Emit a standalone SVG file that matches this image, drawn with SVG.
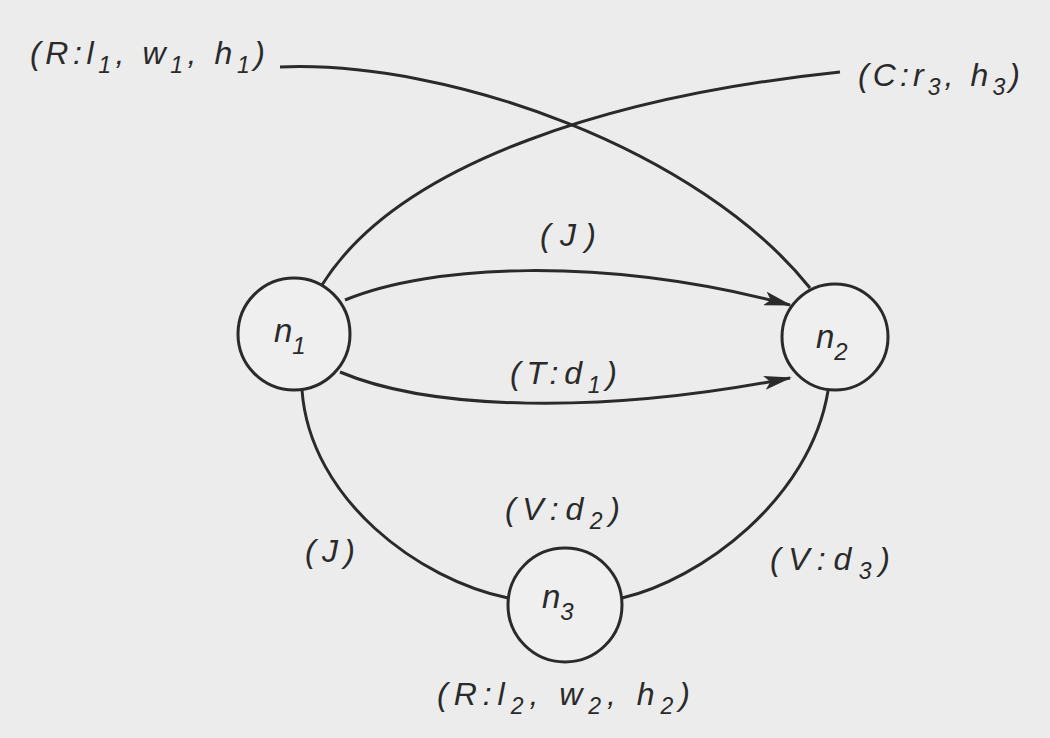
<svg xmlns="http://www.w3.org/2000/svg" width="1050" height="738" viewBox="0 0 1050 738">
<style>
.n{fill:#efefef;stroke:#2a2a2a;stroke-width:3}
.e{fill:none;stroke:#2a2a2a;stroke-width:3}
text{font-family:"Liberation Sans",Arial,sans-serif;font-style:italic;font-size:32px;fill:#2a2a2a}
.s{font-size:23px}
.nl{font-size:33px}
.ns{font-size:24px}
</style>
<defs>
<marker id="arr" markerWidth="28" markerHeight="14" refX="26" refY="7" orient="auto" markerUnits="userSpaceOnUse">
<path d="M0,0 L28,7 L0,14 L6,7 Z" fill="#2a2a2a"/>
</marker>
</defs>
<rect width="1050" height="738" fill="#ececec"/>
<g id="connectors">
<path class="e" d="M 280 67 C 450 60, 700 150, 810 288"/>
<path class="e" d="M 840 72 C 620 95, 400 160, 322 285"/>
<path class="e" d="M 345 300 C 430 265, 600 255, 790 305" marker-end="url(#arr)"/>
<path class="e" d="M 340 372 C 430 410, 600 415, 790 378" marker-end="url(#arr)"/>
<path class="e" d="M 302 390 C 310 500, 420 580, 508 598"/>
<path class="e" d="M 828 391 C 810 500, 700 580, 622 598"/>
</g>
<g id="labels">
<text x="30" y="64" textLength="235" lengthAdjust="spacing">(R:l<tspan class="s" dy="9">1</tspan><tspan dy="-9">, w</tspan><tspan class="s" dy="9">1</tspan><tspan dy="-9">, h</tspan><tspan class="s" dy="9">1</tspan><tspan dy="-9">)</tspan></text>
<text x="858" y="86" textLength="162" lengthAdjust="spacing">(C:r<tspan class="s" dy="9">3</tspan><tspan dy="-9">, h</tspan><tspan class="s" dy="9">3</tspan><tspan dy="-9">)</tspan></text>
<text x="540" y="246" textLength="56" lengthAdjust="spacing">(J)</text>
<text x="510" y="384" textLength="107" lengthAdjust="spacing">(T:d<tspan class="s" dy="9">1</tspan><tspan dy="-9">)</tspan></text>
<text x="505" y="520" textLength="115" lengthAdjust="spacing">(V:d<tspan class="s" dy="9">2</tspan><tspan dy="-9">)</tspan></text>
<text x="305" y="562" textLength="50" lengthAdjust="spacing">(J)</text>
<text x="770" y="570" textLength="120" lengthAdjust="spacing">(V:d<tspan class="s" dy="9">3</tspan><tspan dy="-9">)</tspan></text>
<text x="437" y="705" textLength="253" lengthAdjust="spacing">(R:l<tspan class="s" dy="9">2</tspan><tspan dy="-9">, w</tspan><tspan class="s" dy="9">2</tspan><tspan dy="-9">, h</tspan><tspan class="s" dy="9">2</tspan><tspan dy="-9">)</tspan></text>
</g>
<g id="n1">
<circle class="n" cx="294" cy="334" r="56"/>
<text class="nl" x="274" y="342">n<tspan class="ns" dy="12">1</tspan></text>
</g>
<g id="n2">
<circle class="n" cx="835" cy="337" r="53"/>
<text class="nl" x="816" y="348">n<tspan class="ns" dy="12">2</tspan></text>
</g>
<g id="n3">
<circle class="n" cx="565" cy="605" r="57"/>
<text class="nl" x="542" y="608">n<tspan class="ns" dy="12">3</tspan></text>
</g>
</svg>
